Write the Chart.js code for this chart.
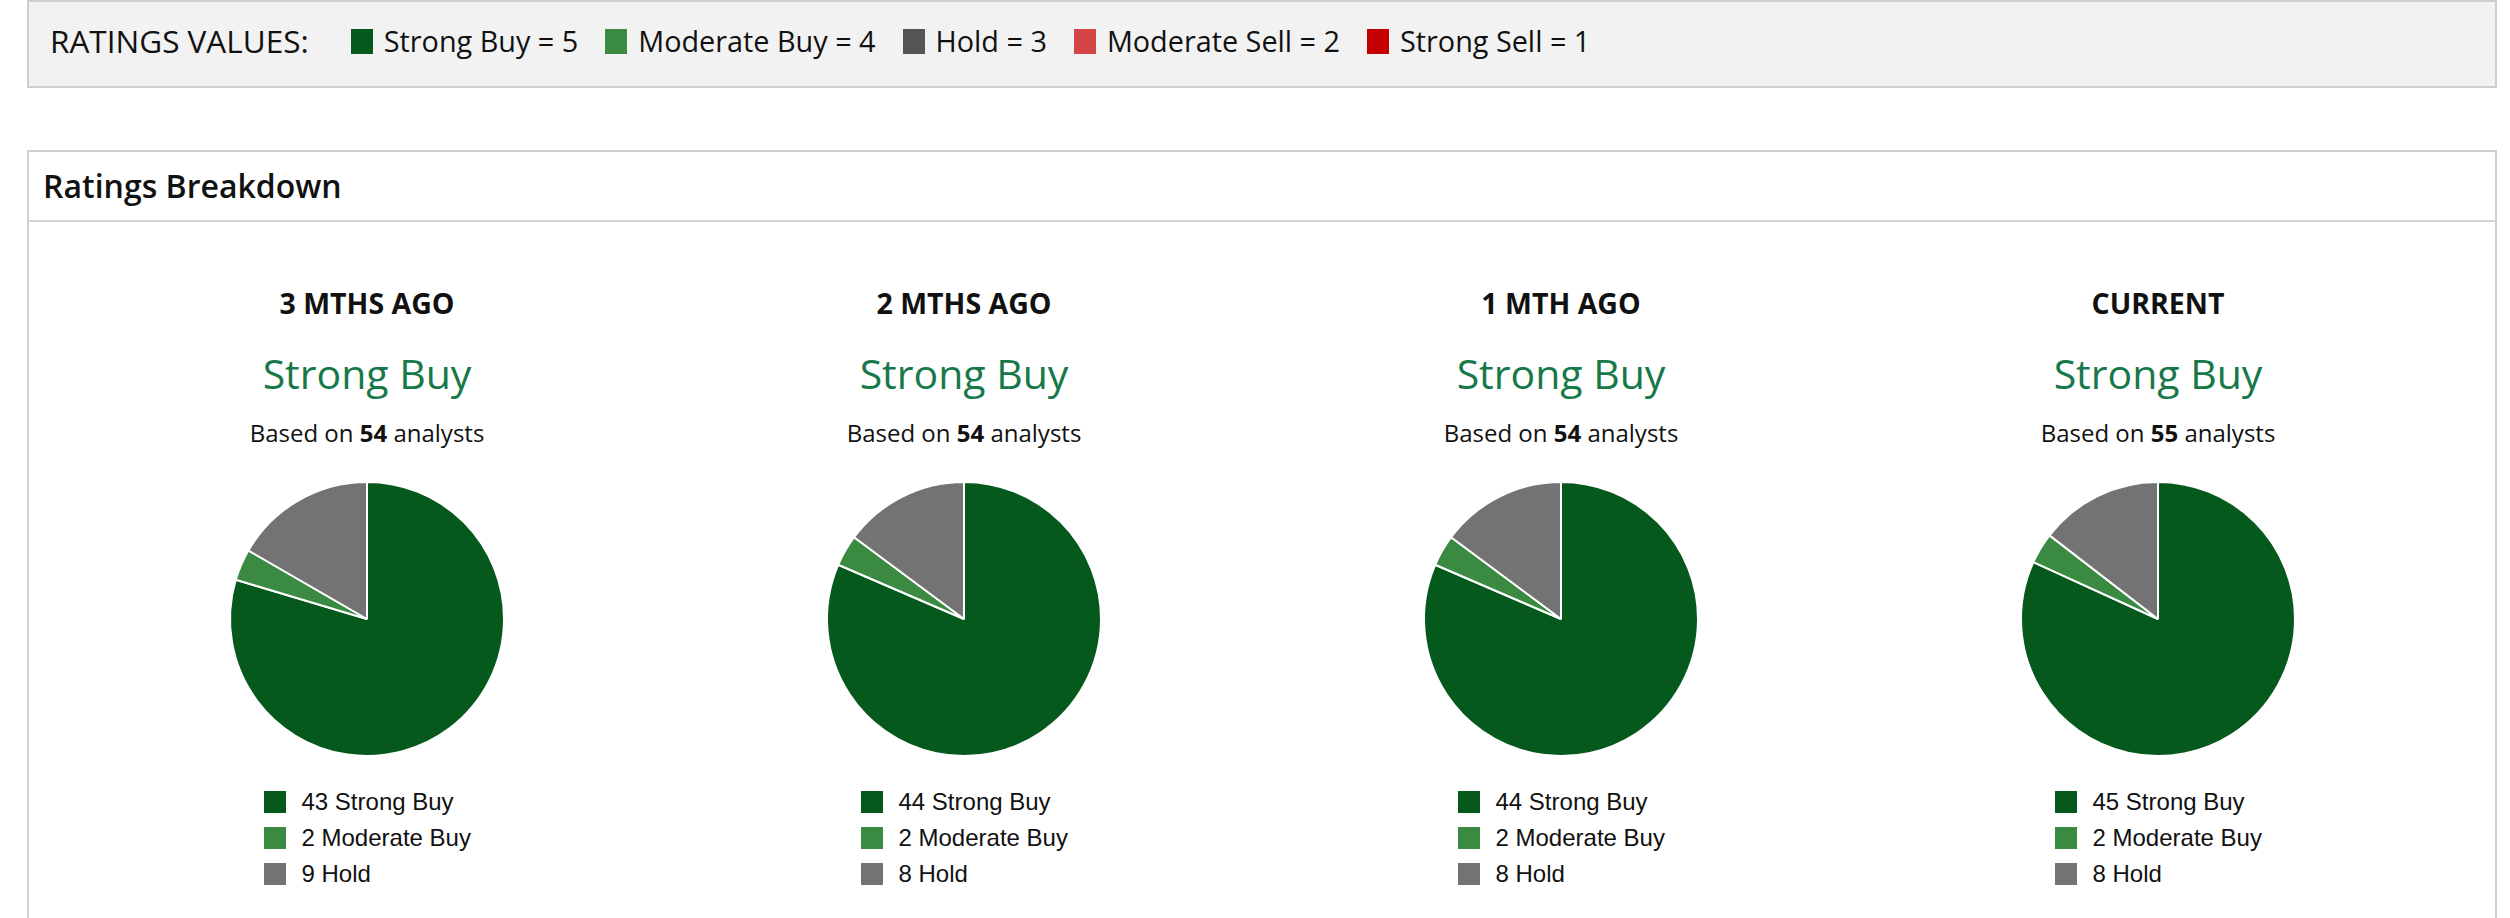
<!DOCTYPE html>
<html>
<head>
<meta charset="utf-8">
<script src="https://cdn.jsdelivr.net/npm/chart.js@4.4.1/dist/chart.umd.min.js"></script>
<style>
  html, body { margin: 0; padding: 0; background: #fff; }
  body { width: 2510px; height: 918px; position: relative; overflow: hidden; font-family: "Open Sans", "Noto Sans", sans-serif; color: #111; }
  #keyBox { position: absolute; left: 27px; top: 0px; width: 2466px; height: 84px; background: #f2f2f2; border: 2px solid #cfcfcf; }
  #keyRow { position: absolute; left: 21px; top: -3px; height: 84px; display: flex; align-items: center; font-size: 28.8px; line-height: 1; }
  #keyRow .lbl { margin-right: 42px; font-size: 31.5px; }
  #keyRow .sw { width: 22px; height: 25px; margin-right: 11px; flex: none; position: relative; top: 1px; }
  #keyRow .it { display: flex; align-items: center; margin-right: 27px; }
  #bdBox { position: absolute; left: 27px; top: 150px; width: 2466px; height: 800px; border: 2px solid #cfcfcf; background: #fff; }
  #bdHead { position: absolute; left: 0; top: 0; width: 2466px; height: 68px; border-bottom: 2px solid #d4d4d4; }
  #bdTitle { position: absolute; left: 14px; top: 18px; font-size: 32px; font-weight: 600; line-height: 1; }
  .col { position: absolute; width: 597px; text-align: center; }
  .period { font-size: 28.5px; font-weight: 700; line-height: 1; }
  .cons { font-size: 41px; color: #17784a; line-height: 1; }
  .based { font-size: 24px; line-height: 1; }
  .based b { font-weight: 700; }
  canvas.pie { position: absolute; }
  .leg { position: absolute; font-family: "Liberation Sans", Arial, sans-serif; font-size: 24px; line-height: 1; }
  .leg .row { display: flex; align-items: center; height: 22px; margin-bottom: 14px; white-space: nowrap; }
  .leg .sq { width: 22px; height: 22px; margin-right: 16px; flex: none; }
</style>
</head>
<body>
<div id="keyBox"><div id="keyRow"></div></div>
<div id="bdBox"><div id="bdHead"><div id="bdTitle">Ratings Breakdown</div></div></div>
<div id="cols"></div>
<script>
// ---- Data ----
const keyTitle = 'RATINGS VALUES:';
const keyLabels = ['Strong Buy = 5', 'Moderate Buy = 4', 'Hold = 3', 'Moderate Sell = 2', 'Strong Sell = 1'];
const keyColors = ['#06591d', '#3a8a42', '#555555', '#d64545', '#c40000'];

const periods = ['3 MTHS AGO', '2 MTHS AGO', '1 MTH AGO', 'CURRENT'];
const consensus = ['Strong Buy', 'Strong Buy', 'Strong Buy', 'Strong Buy'];
const analystCounts = [54, 54, 54, 55];

const sliceLabels = ['Strong Buy', 'Moderate Buy', 'Hold'];
const strongBuy = [43, 44, 44, 45];
const moderateBuy = [2, 2, 2, 2];
const hold = [9, 8, 8, 8];
const sliceColors = ['#06591d', '#3a8a42', '#737373'];

// ---- Key row ----
const keyRow = document.getElementById('keyRow');
const lbl = document.createElement('span');
lbl.className = 'lbl';
lbl.textContent = keyTitle;
keyRow.appendChild(lbl);
keyLabels.forEach((t, i) => {
  const it = document.createElement('span');
  it.className = 'it';
  const sw = document.createElement('span');
  sw.className = 'sw';
  sw.style.background = keyColors[i];
  const tx = document.createElement('span');
  tx.textContent = t;
  it.appendChild(sw); it.appendChild(tx);
  keyRow.appendChild(it);
});

// ---- Columns ----
const colCenters = [367, 964, 1561, 2158];
const colsEl = document.getElementById('cols');
periods.forEach((p, i) => {
  const cx = colCenters[i];
  const mk = (cls, top, html) => {
    const d = document.createElement('div');
    d.className = 'col ' + cls;
    d.style.left = (cx - 298.5) + 'px';
    d.style.top = top + 'px';
    d.innerHTML = html;
    colsEl.appendChild(d);
  };
  mk('period', 289, p);
  mk('cons', 353, consensus[i]);
  mk('based', 421, 'Based on <b>' + analystCounts[i] + '</b> analysts');

  const values = [strongBuy[i], moderateBuy[i], hold[i]];
  const cv = document.createElement('canvas');
  cv.className = 'pie';
  cv.width = 300; cv.height = 300;
  cv.style.width = '300px'; cv.style.height = '300px';
  cv.style.left = (cx - 150) + 'px';
  cv.style.top = (619 - 150) + 'px';
  colsEl.appendChild(cv);
  new Chart(cv, {
    type: 'pie',
    data: {
      labels: sliceLabels,
      datasets: [{
        data: values,
        backgroundColor: sliceColors,
        borderColor: '#ffffff',
        borderWidth: 2,
        hoverOffset: 0
      }]
    },
    options: {
      responsive: false,
      animation: false,
      devicePixelRatio: 1,
      radius: 137,
      layout: { padding: 0 },
      events: [],
      plugins: { legend: { display: false }, tooltip: { enabled: false } }
    }
  });

  // legend
  const leg = document.createElement('div');
  leg.className = 'leg';
  leg.style.top = '791px';
  values.forEach((v, k) => {
    const r = document.createElement('div');
    r.className = 'row';
    const sq = document.createElement('span');
    sq.className = 'sq';
    sq.style.background = sliceColors[k];
    const tx = document.createElement('span');
    tx.textContent = v + ' ' + sliceLabels[k];
    r.appendChild(sq); r.appendChild(tx);
    leg.appendChild(r);
  });
  colsEl.appendChild(leg);
  const w = leg.offsetWidth;
  leg.style.left = (cx - w / 2) + 'px';
});
</script>
</body>
</html>
